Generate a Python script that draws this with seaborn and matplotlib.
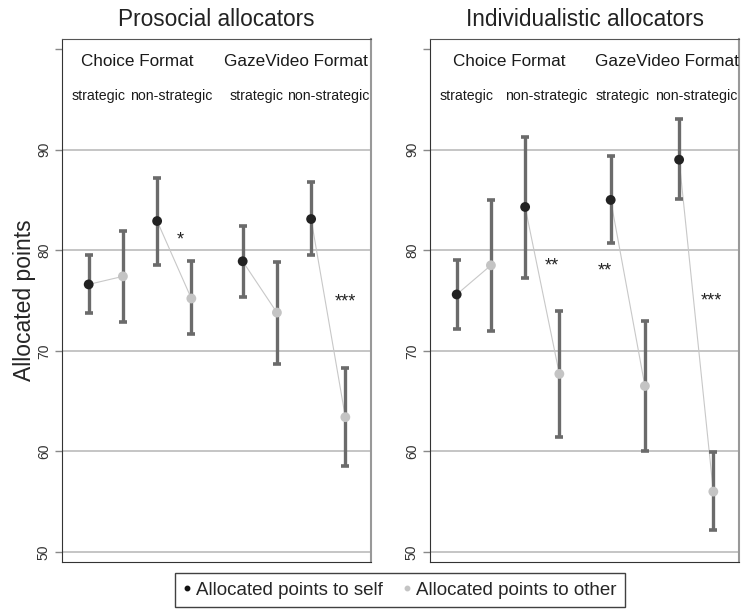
import matplotlib
matplotlib.use("Agg")
import matplotlib.pyplot as plt
from matplotlib.lines import Line2D
import numpy as np
import pandas as pd
import seaborn as sns

# ----------------------
# Data
# ----------------------
panels = ["Prosocial allocators", "Individualistic allocators"]
formats = ["Choice Format", "GazeVideo Format"]
conditions = ["strategic", "non-strategic", "strategic", "non-strategic"]

# Prosocial allocators
pro_self = [76.6, 82.9, 78.9, 83.1]
pro_self_lo = [73.8, 78.5, 75.3, 79.5]
pro_self_hi = [79.5, 87.2, 82.4, 86.8]
pro_other = [77.4, 75.2, 73.8, 63.4]
pro_other_lo = [72.9, 71.7, 68.7, 58.5]
pro_other_hi = [81.9, 78.9, 78.8, 68.3]
pro_stars = ["*", "", "", "***"]

# Individualistic allocators
ind_self = [75.6, 84.3, 85.0, 89.0]
ind_self_lo = [72.2, 77.2, 80.7, 85.1]
ind_self_hi = [79.0, 91.3, 89.4, 93.0]
ind_other = [78.5, 67.7, 66.5, 56.0]
ind_other_lo = [72.0, 61.4, 60.0, 52.2]
ind_other_hi = [85.0, 74.0, 73.0, 59.9]
ind_stars = ["", "**", "**", "***"]

# ----------------------
# Layout (positions only)
# ----------------------
self_x = [1, 3, 5.5, 7.5]
other_x = [2, 4, 6.5, 8.5]
star_pos = {
    0: [(3.67, 81.0), None, None, (8.5, 74.9)],
    1: [None, (3.79, 78.4), (5.33, 77.9), (8.45, 75.0)],
}
format_x = {0: [2.42, 7.05], 1: [2.55, 7.14]}
cond_x = {0: [1.29, 3.41, 5.91, 8.0], 1: [1.30, 3.62, 5.84, 8.01]}

SELF_C = "#222222"
OTHER_C = "#c4c4c4"
BAR_C = "#6b6b6b"

sns.set_style("white")
plt.rcParams["font.family"] = ["Liberation Sans", "DejaVu Sans"]


def build_frame(s, s_lo, s_hi, o, o_lo, o_hi):
    rows = []
    for i in range(4):
        rows.append(dict(cond=i, who="self", x=self_x[i], value=s[i], lo=s_lo[i], hi=s_hi[i]))
        rows.append(dict(cond=i, who="other", x=other_x[i], value=o[i], lo=o_lo[i], hi=o_hi[i]))
    return pd.DataFrame(rows)


frames = [
    build_frame(pro_self, pro_self_lo, pro_self_hi, pro_other, pro_other_lo, pro_other_hi),
    build_frame(ind_self, ind_self_lo, ind_self_hi, ind_other, ind_other_lo, ind_other_hi),
]
stars = [pro_stars, ind_stars]

fig = plt.figure(figsize=(7.41, 6.09), dpi=100)
ax_left = [62 / 741, 430 / 741]
axes = [fig.add_axes([l, 47 / 609, 309 / 741, 523 / 609]) for l in ax_left]

for k, (ax, df) in enumerate(zip(axes, frames)):
    # grid
    for g in [50, 60, 70, 80, 90]:
        ax.axhline(g, color="#c0c0c0", lw=1.3, zorder=0)

    # connecting lines self -> other
    sns.lineplot(
        data=df, x="x", y="value", units="cond", estimator=None,
        color="#c8c8c8", lw=0.8, ax=ax, legend=False, zorder=1,
    )

    # error bars
    ax.errorbar(
        df["x"], df["value"],
        yerr=[df["value"] - df["lo"], df["hi"] - df["value"]],
        fmt="none", ecolor=BAR_C, elinewidth=2.4, capsize=3.2, capthick=2.6, zorder=2,
    )

    # points
    sns.scatterplot(
        data=df, x="x", y="value", hue="who",
        palette={"self": SELF_C, "other": OTHER_C},
        s=50, linewidth=0, ax=ax, legend=False, zorder=3,
    )

    # significance stars
    for lab, pos in zip(stars[k], star_pos[k]):
        if lab and pos:
            ax.text(pos[0], pos[1], lab, ha="center", va="center", fontsize=13, color="#222222")

    # header texts
    for fmt, fx in zip(formats, format_x[k]):
        ax.text(fx, 98.75, fmt, ha="center", va="center", fontsize=12.3, color="#1a1a1a")
    for cnd, cx in zip(conditions, cond_x[k]):
        ax.text(cx, 95.3, cnd, ha="center", va="center", fontsize=10.2, color="#1a1a1a")

    ax.set_xlim(0.22, 9.25)
    ax.set_ylim(49, 101)
    ax.set_xticks([])
    ax.set_yticks([50, 60, 70, 80, 90, 100])
    ax.set_yticklabels(["50", "60", "70", "80", "90", ""], rotation=90, va="center")
    ax.tick_params(axis="y", direction="out", length=5, width=1, color="#888888",
                   labelsize=10, labelcolor="#333333", pad=3, left=True)
    ax.set_xlabel("")
    ax.set_ylabel("")

    ax.spines["left"].set_color("#333333")
    ax.spines["bottom"].set_color("#333333")
    ax.spines["top"].set_color("#555555")
    ax.spines["right"].set_color("#999999")
    ax.spines["right"].set_linewidth(1.5)
    for sp in ax.spines.values():
        sp.set_visible(True)

    cx_fig = ax_left[k] + 309 / 741 / 2
    fig.text(cx_fig, (609 - 20) / 609, panels[k], ha="center", va="center", fontsize=16.3, color="#222222")

axes[0].set_ylabel("Allocated points", fontsize=16.5, labelpad=1)

handles = [
    Line2D([], [], marker="o", ls="", color="#111111", markersize=3.2),
    Line2D([], [], marker="o", ls="", color=OTHER_C, markersize=3.2),
]
leg = fig.legend(
    handles, ["Allocated points to self", "Allocated points to other"],
    loc="upper center", bbox_to_anchor=(400 / 741, (609 - 573) / 609),
    ncol=2, frameon=True, fancybox=False, edgecolor="#111111", fontsize=13.5,
    handlelength=0.4, handletextpad=0.28, columnspacing=1.05, borderpad=0.45,
    borderaxespad=0,
)
leg.get_frame().set_linewidth(1)

fig.savefig("out.png", dpi=100)
